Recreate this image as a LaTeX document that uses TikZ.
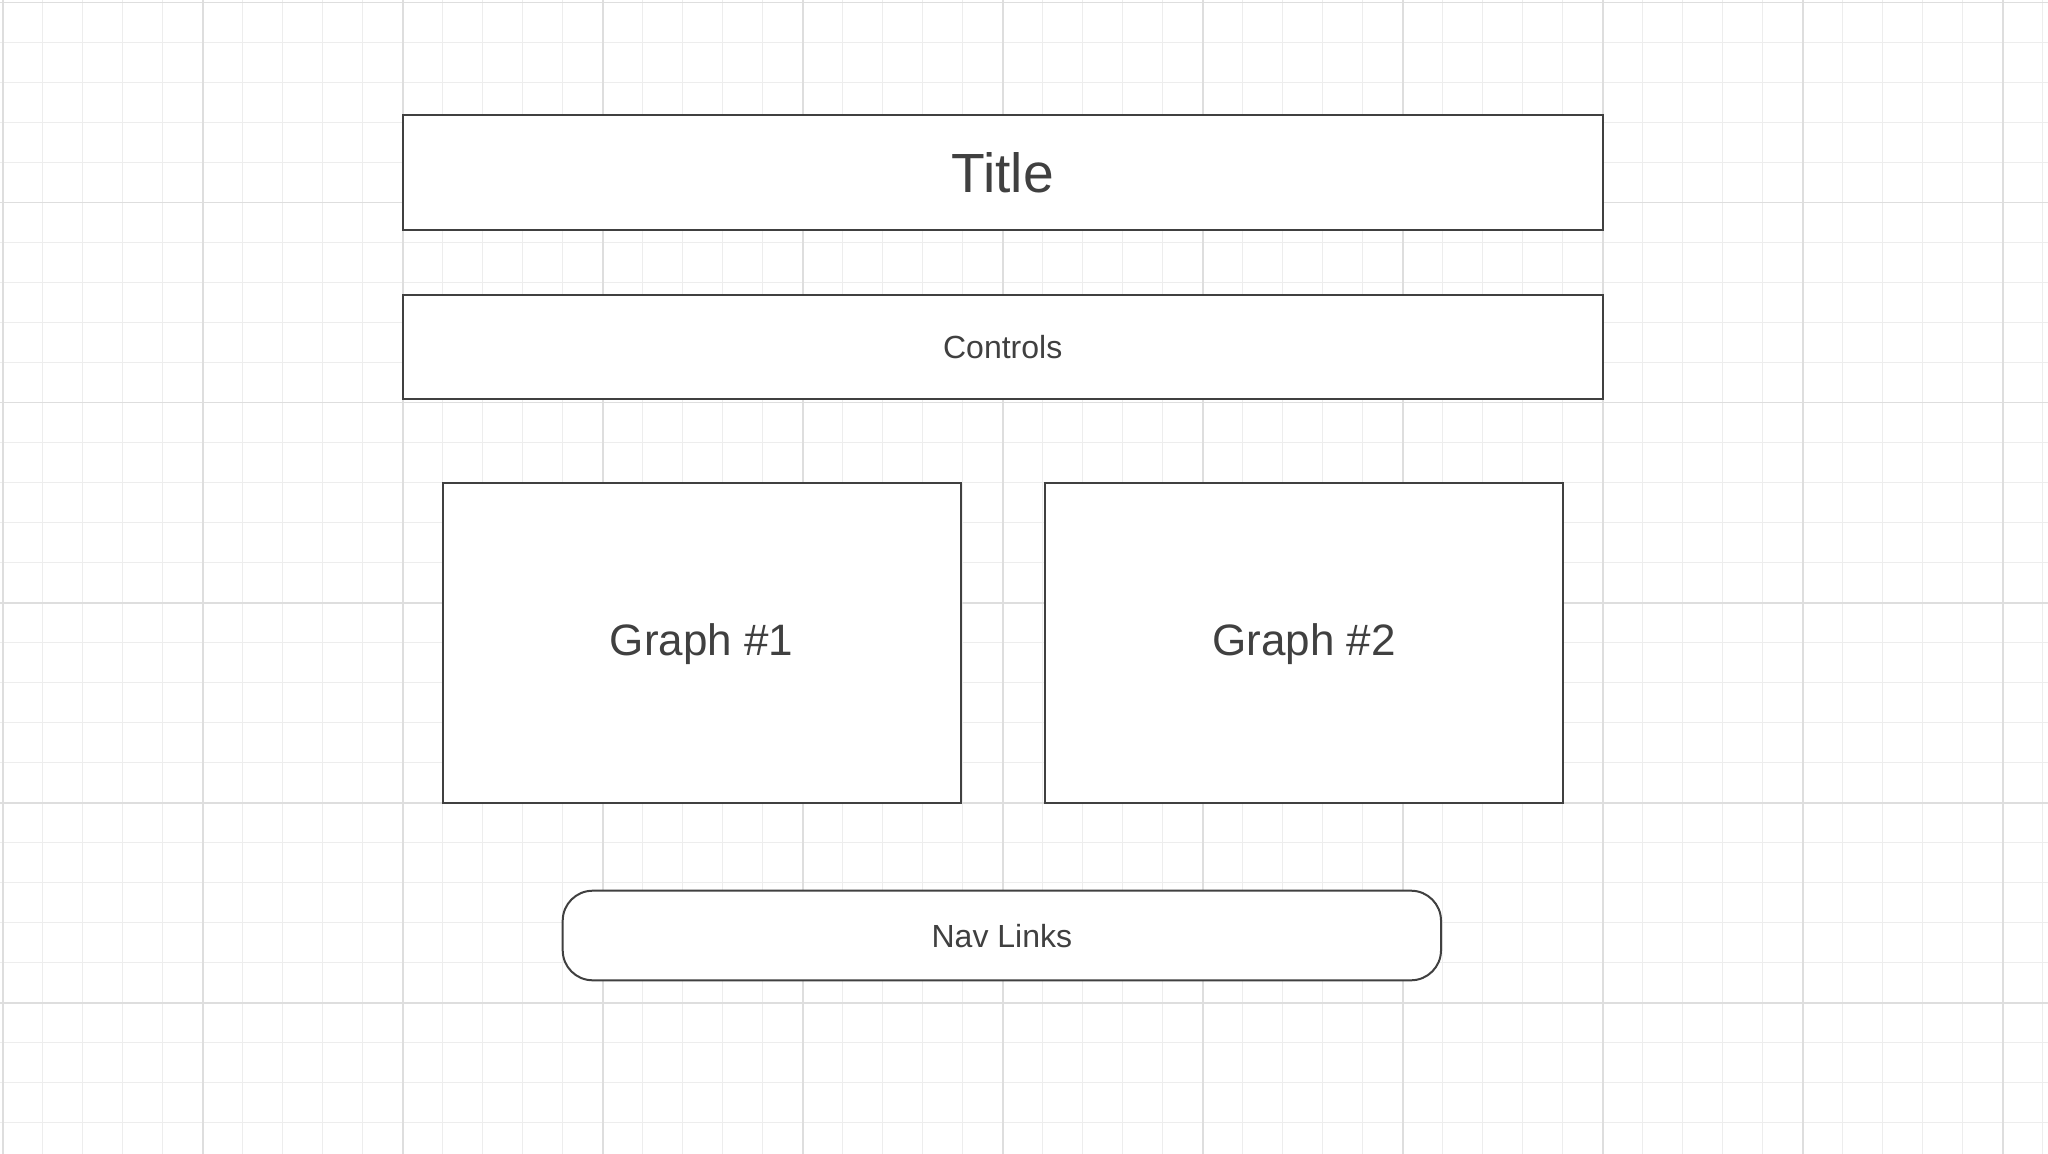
\documentclass[tikz,border=0pt]{standalone}
\usepackage{fontspec}
\setmainfont{Liberation Sans}
\usepackage{tikz}
\usetikzlibrary{positioning}
\definecolor{edge}{HTML}{404040}
\definecolor{gridminor}{HTML}{EDEDED}
\definecolor{gridmajor}{HTML}{DEDEDE}
\tikzset{box/.style={rectangle,draw=edge,fill=white,line width=1pt,inner sep=0pt,text=edge,text depth=0pt}}
\tikzset{navbox/.style={box,rounded corners=15pt}}
\tikzset{minorline/.style={draw=gridminor,line width=0.7pt}}
\tikzset{majorline/.style={draw=gridmajor,line width=0.8pt}}

\begin{document}
\begin{tikzpicture}[x=0.5pt,y=-0.5pt]
\fill[white] (0,0) rectangle (2048,1154);
\useasboundingbox (0,0) rectangle (2048,1154);

% grid
\foreach \i in {0,...,51} \draw[minorline] ({2.7+40*\i},0) -- ({2.7+40*\i},1154);
\foreach \j in {0,...,28} \draw[minorline] (0,{2.7+40*\j}) -- (2048,{2.7+40*\j});
\foreach \i in {0,...,10} \draw[majorline] ({2.7+200*\i},0) -- ({2.7+200*\i},1154);
\foreach \j in {0,...,5} \draw[majorline] (0,{2.7+200*\j}) -- (2048,{2.7+200*\j});

\node[box,minimum width=600pt,minimum height=57.75pt,font=\fontsize{27.6}{32}\selectfont] (title) at (1002.7,172.7) {Title};
\node[box,minimum width=600pt,minimum height=51.85pt,font=\fontsize{16}{19}\selectfont] (controls) at (1002.7,346.85) {Controls};

\node[box,minimum width=259pt,minimum height=160pt,font=\fontsize{22}{26}\selectfont] (graphA) at (701.7,642.7) {};
\node[box,minimum width=259pt,minimum height=160pt,font=\fontsize{22}{26}\selectfont] (graphB) at (1304,642.7) {};
\node[text=edge,inner sep=0pt,text depth=0pt,font=\fontsize{22}{26}\selectfont] (graphAtext) at (701.7,640) {Graph \#1};
\node[text=edge,inner sep=0pt,text depth=0pt,font=\fontsize{22}{26}\selectfont] (graphBtext) at (1304,640) {Graph \#2};

\node[navbox,minimum width=439.15pt,minimum height=44.8pt,font=\fontsize{16}{19}\selectfont] (nav) at (1001.85,935.5) {Nav Links};

\end{tikzpicture}
\end{document}
